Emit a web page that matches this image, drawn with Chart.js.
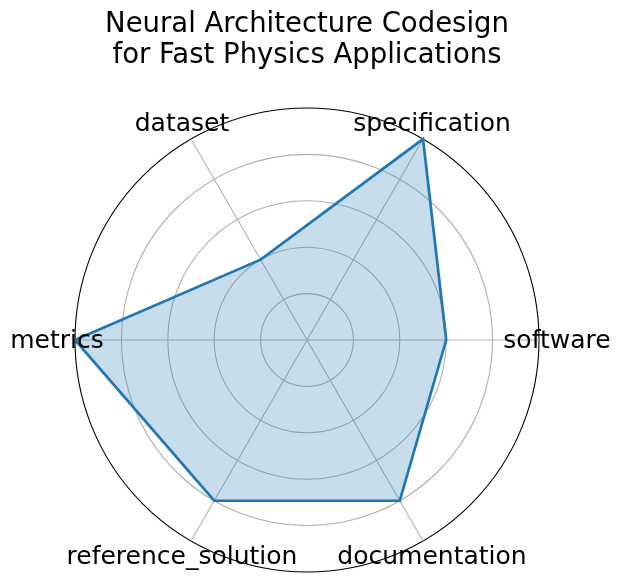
<!DOCTYPE html>
<html>
<head>
<meta charset="utf-8">
<script src="https://cdn.jsdelivr.net/npm/chart.js@4/dist/chart.umd.min.js"></script>
<style>
  html, body { margin: 0; padding: 0; background: #ffffff; }
  canvas { display: block; }
</style>
</head>
<body>
<canvas id="c" width="621" height="581"></canvas>
<script>
// Categories in matplotlib order (counter-clockwise starting at the right)
const categories = ['software', 'specification', 'dataset', 'metrics', 'reference_solution', 'documentation'];
const values = [3, 5, 2, 5, 4, 4];
const titleLines = ['Neural Architecture Codesign', 'for Fast Physics Applications'];
const radialTicks = [1, 2, 3, 4, 5];

// Chart.js runs clockwise: reorder so it reads counter-clockwise like the reference
const n = categories.length;
const order = categories.map((_, i) => (n - i) % n);
const cjLabels = order.map(i => categories[i]);
const cjValues = order.map(i => values[i]);

Chart.defaults.font.family = "'DejaVu Sans', sans-serif";
Chart.defaults.color = '#000000';

const labelPlugin = {
  id: 'centeredPointLabels',
  afterDraw(chart) {
    const scale = chart.scales.r;
    const ctx = chart.ctx;
    ctx.save();
    ctx.font = "25px 'DejaVu Sans', sans-serif";
    ctx.fillStyle = '#000000';
    ctx.textAlign = 'center';
    ctx.textBaseline = 'middle';
    const dist = scale.drawingArea * 250 / 232;
    cjLabels.forEach((lab, i) => {
      const p = scale.getPointPosition(i, dist);
      ctx.fillText(lab, p.x, p.y + 1);
    });
    ctx.restore();
  }
};

new Chart(document.getElementById('c'), {
  type: 'radar',
  data: {
    labels: cjLabels,
    datasets: [{
      data: cjValues,
      borderColor: '#1f77b4',
      backgroundColor: 'rgba(31,119,180,0.25)',
      borderWidth: 2.7,
      pointRadius: 0,
      pointHoverRadius: 0,
      fill: true,
      tension: 0
    }]
  },
  options: {
    responsive: false,
    animation: false,
    layout: { padding: { left: 0, right: 7, top: 0, bottom: 9 } },
    plugins: {
      legend: { display: false },
      tooltip: { enabled: false },
      title: {
        display: true,
        text: titleLines,
        color: '#000000',
        font: { size: 27.5, weight: 'normal', lineHeight: 1.1 },
        padding: { top: 10, bottom: 37.5 }
      }
    },
    scales: {
      r: {
        min: 0,
        max: radialTicks[radialTicks.length - 1],
        startAngle: 90,
        ticks: { display: false, stepSize: 1 },
        pointLabels: { display: false },
        grid: {
          circular: true,
          color: (c) => (c.tick && c.tick.value === radialTicks[radialTicks.length - 1]) ? '#000000' : '#b0b0b0',
          lineWidth: 1.1
        },
        angleLines: { color: '#b0b0b0', lineWidth: 1.1 }
      }
    }
  },
  plugins: [labelPlugin]
});
</script>
</body>
</html>
